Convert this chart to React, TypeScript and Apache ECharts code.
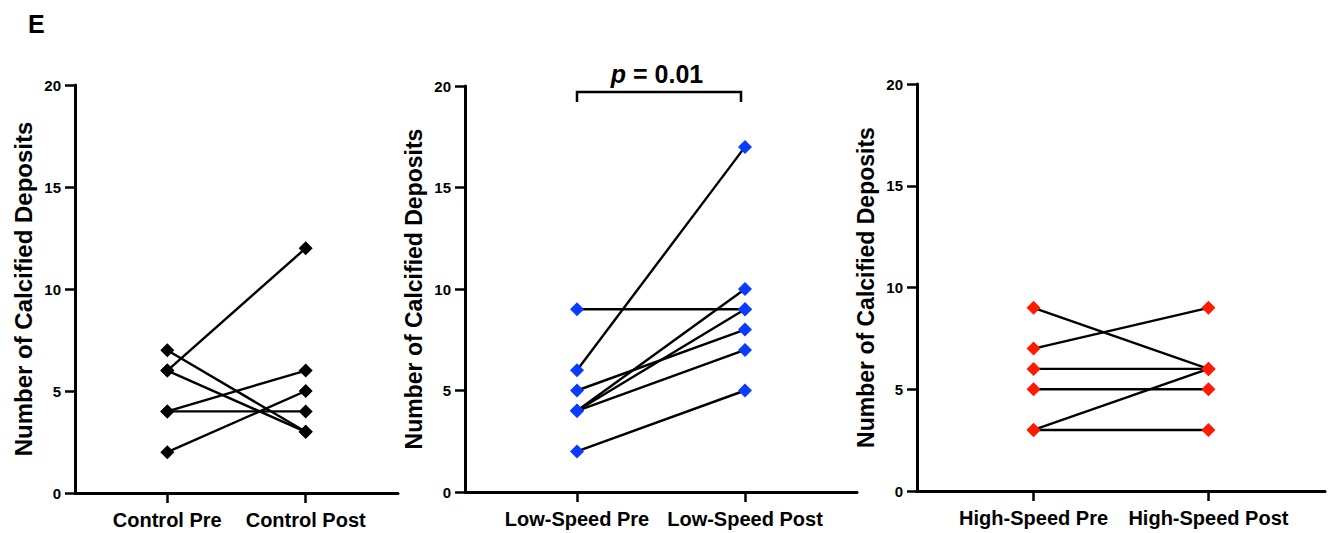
import React, { useEffect, useRef } from "react";
import * as echarts from "echarts";

const yTicks = [0, 5, 10, 15, 20];
const controlLabels = ["Control Pre", "Control Post"];
const controlPre = [7, 6, 6, 4, 4, 2];
const controlPost = [3, 3, 12, 6, 4, 5];
const lowLabels = ["Low-Speed Pre", "Low-Speed Post"];
const lowPre = [9, 6, 5, 4, 4, 4, 2];
const lowPost = [9, 17, 8, 10, 9, 7, 5];
const highLabels = ["High-Speed Pre", "High-Speed Post"];
const highPre = [9, 7, 6, 5, 3, 3];
const highPost = [6, 9, 6, 5, 6, 3];
const yTitle = "Number of Calcified Deposits";
const pText = "0.01";
const panelLetter = "E";

const FONT = "'Liberation Sans', Arial, sans-serif";
const PRE_X = 2;
const POST_X = 5;

const panels = [
  { labels: controlLabels, pre: controlPre, post: controlPost, color: "#000000", grid: { left: 75, top: 85, width: 323, height: 408 }, titleSize: 24 },
  { labels: lowLabels, pre: lowPre, post: lowPost, color: "#0a3cff", grid: { left: 465, top: 86, width: 392, height: 406 }, titleSize: 23 },
  { labels: highLabels, pre: highPre, post: highPost, color: "#ff1a00", grid: { left: 917, top: 84, width: 408, height: 407 }, titleSize: 23 },
];

export default function App() {
  const ref = useRef<HTMLDivElement>(null);
  useEffect(() => {
    if (!ref.current) return;
    const chart = echarts.init(ref.current, undefined, { renderer: "svg" });
    const grids: any[] = [];
    const xAxes: any[] = [];
    const yAxes: any[] = [];
    const series: any[] = [];
    panels.forEach((p, i) => {
      grids.push({ ...p.grid, containLabel: false });
      xAxes.push({
        type: "value",
        gridIndex: i,
        min: 0,
        max: 7,
        splitLine: { show: false },
        axisLine: { show: true, onZero: false, lineStyle: { color: "#000", width: 3 } },
        axisTick: { show: true, length: 10, customValues: [PRE_X, POST_X], lineStyle: { color: "#000", width: 2.5 } },
        axisLabel: {
          show: true,
          customValues: [PRE_X, POST_X],
          formatter: (v: number) => (v === PRE_X ? p.labels[0] : v === POST_X ? p.labels[1] : ""),
          color: "#000",
          fontSize: 20,
          fontWeight: "bold",
          fontFamily: FONT,
          margin: 17,
        },
      });
      yAxes.push({
        type: "value",
        gridIndex: i,
        min: yTicks[0],
        max: yTicks[yTicks.length - 1],
        interval: 5,
        name: yTitle,
        nameLocation: "middle",
        nameRotate: 90,
        nameGap: 40,
        nameTextStyle: { color: "#000", fontSize: p.titleSize, fontWeight: "bold", fontFamily: FONT },
        splitLine: { show: false },
        axisLine: { show: true, lineStyle: { color: "#000", width: 3 } },
        axisTick: { show: true, length: 10, lineStyle: { color: "#000", width: 2.5 } },
        axisLabel: { color: "#000", fontSize: 15, fontWeight: "bold", fontFamily: FONT, margin: 14 },
      });
      p.pre.forEach((v, j) => {
        series.push({
          type: "line",
          xAxisIndex: i,
          yAxisIndex: i,
          data: [
            [PRE_X, v],
            [POST_X, p.post[j]],
          ],
          symbol: "diamond",
          symbolSize: 14,
          showSymbol: true,
          lineStyle: { color: "#000", width: 2.4 },
          itemStyle: { color: p.color },
          z: 2,
        });
      });
    });
    chart.setOption({
      animation: false,
      backgroundColor: "#ffffff",
      grid: grids,
      xAxis: xAxes,
      yAxis: yAxes,
      series,
      graphic: [
        {
          type: "text",
          left: 28,
          top: 11,
          style: { text: panelLetter, fontSize: 25, fontWeight: "bold", fontFamily: FONT, fill: "#000" },
        },
        {
          type: "polyline",
          shape: { points: [[577, 102], [577, 92], [741, 92], [741, 102]] },
          style: { stroke: "#000", lineWidth: 2.5, fill: "none" },
        },
        {
          type: "text",
          x: 657,
          y: 74,
          style: {
            text: "{i|p}{n| = " + pText + "}",
            align: "center",
            verticalAlign: "middle",
            rich: {
              i: { fontSize: 25, fontWeight: "bold", fontStyle: "italic", fontFamily: FONT, fill: "#000" },
              n: { fontSize: 25, fontWeight: "bold", fontFamily: FONT, fill: "#000" },
            },
          },
        },
      ],
    });
    return () => chart.dispose();
  }, []);
  return <div ref={ref} style={{ position: "fixed", left: 0, top: 0, width: 1334, height: 533 }} />;
}
